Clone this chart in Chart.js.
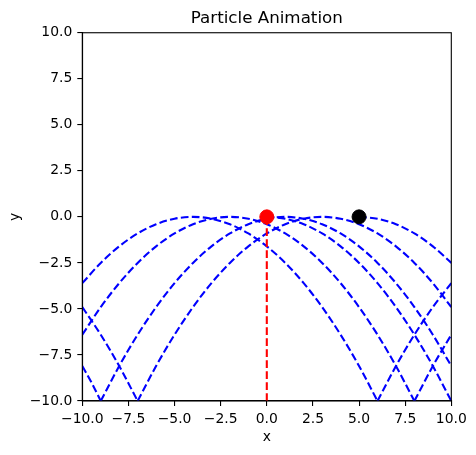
<!DOCTYPE html>
<html>
<head>
<meta charset="utf-8">
<title>Particle Animation</title>
<script src="https://cdn.jsdelivr.net/npm/chart.js@4.4.1/dist/chart.umd.min.js"></script>
<style>
  html, body { margin: 0; padding: 0; background: #fff; }
  canvas { display: block; }
</style>
</head>
<body>
<canvas id="myChart" width="476" height="455"></canvas>
<script>
// Traces (x, y pairs per segment)
var arcAX = [-10, -9, -8, -7, -6, -5, -4, -3, -2, -1, 0, 1, 2, 3, 4, 5, 6];
var arcAY = [-3.6, -2.5, -1.6, -0.9, -0.4, -0.1, 0, -0.1, -0.4, -0.9, -1.6, -2.5, -3.6, -4.9, -6.4, -8.1, -10];
var bounceAX = [6, 7, 8, 9, 10];
var bounceAY = [-10, -8.1, -6.4, -4.9, -3.6];

var arcBX = [-10, -9, -8, -7, -6, -5, -4, -3, -2, -1, 0, 1, 2, 3, 4, 5, 6, 7, 8];
var arcBY = [-6.4, -4.9, -3.6, -2.5, -1.6, -0.9, -0.4, -0.1, 0, -0.1, -0.4, -0.9, -1.6, -2.5, -3.6, -4.9, -6.4, -8.1, -10];
var bounceBX = [8, 9, 10];
var bounceBY = [-10, -8.1, -6.4];

var arcCX = [0, 1, 2, 3, 4, 5, 6, 7, 8, 9, 10];
var arcCY = [0, -0.1, -0.4, -0.9, -1.6, -2.5, -3.6, -4.9, -6.4, -8.1, -10];

var bounceDX = [-10, -9.5, -9];
var bounceDY = [-8.1, -9.0, -10];
var arcDX = [-9, -8, -7, -6, -5, -4, -3, -2, -1, 0, 1, 2, 3, 4, 5, 6, 7, 8, 9, 10];
var arcDY = [-10, -8.1, -6.4, -4.9, -3.6, -2.5, -1.6, -0.9, -0.4, -0.1, 0, -0.1, -0.4, -0.9, -1.6, -2.5, -3.6, -4.9, -6.4, -8.1];

var bounceEX = [-10, -9, -8, -7];
var bounceEY = [-4.9, -6.4, -8.1, -10];
var arcEX = [-7, -6, -5, -4, -3, -2, -1, 0, 1, 2, 3, 4, 5, 6, 7, 8, 9, 10];
var arcEY = [-10, -8.1, -6.4, -4.9, -3.6, -2.5, -1.6, -0.9, -0.4, -0.1, 0, -0.1, -0.4, -0.9, -1.6, -2.5, -3.6, -4.9];

var arcFX = [5, 6, 7, 8, 9, 10];
var arcFY = [0, -0.1, -0.4, -0.9, -1.6, -2.5];

var redLineX = [0, 0];
var redLineY = [-10, 0];
var redDot = [0, 0];
var blackDot = [5, 0];

var tickValues = [-10, -7.5, -5, -2.5, 0, 2.5, 5, 7.5, 10];
var tickLabels = ['\u221210.0', '\u22127.5', '\u22125.0', '\u22122.5', '0.0', '2.5', '5.0', '7.5', '10.0'];

function pts(xs, ys) {
    return xs.map(function (x, i) { return { x: x, y: ys[i] }; });
}

function trail(xs, ys) {
    return {
        data: pts(xs, ys),
        showLine: true,
        borderColor: '#0000ff',
        borderWidth: 2.1,
        borderDash: [7.7, 3.3],
        pointRadius: 0,
        cubicInterpolationMode: 'monotone',
        order: 3
    };
}

var tickFont = { family: 'DejaVu Sans', size: 13.9 };

function axis(fitKey, fitVal, title) {
    return {
        type: 'linear',
        min: -10,
        max: 10,
        afterBuildTicks: function (scale) {
            scale.ticks = tickValues.map(function (v) { return { value: v }; });
        },
        afterFit: function (scale) { scale[fitKey] = fitVal; },
        ticks: {
            color: '#000',
            font: tickFont,
            padding: 5,
            autoSkip: false,
            maxRotation: 0,
            callback: function (v, i) { return tickLabels[i]; }
        },
        grid: {
            display: true,
            drawOnChartArea: false,
            drawTicks: true,
            tickLength: 5,
            color: '#000',
            lineWidth: 1.1
        },
        border: { display: true, color: '#000', width: 1.1 },
        title: {
            display: true,
            text: title,
            color: '#000',
            font: tickFont,
            padding: fitKey === 'width' ? { top: 7 } : { bottom: 9 }
        }
    };
}

// top and right spines
var frame = {
    id: 'frame',
    afterDatasetsDraw: function (chart) {
        var a = chart.chartArea, c = chart.ctx;
        c.save();
        c.strokeStyle = '#000';
        c.lineWidth = 1.1;
        c.strokeRect(a.left, a.top, a.right - a.left, a.bottom - a.top);
        c.restore();
    }
};

var ctx = document.getElementById('myChart').getContext('2d');
var chart = new Chart(ctx, {
    type: 'scatter',
    data: {
        datasets: [
            {
                data: [{ x: redDot[0], y: redDot[1] }],
                pointRadius: 7,
                pointBackgroundColor: '#ff0000',
                pointBorderColor: '#ff0000',
                pointBorderWidth: 1,
                order: 0
            },
            {
                data: [{ x: blackDot[0], y: blackDot[1] }],
                pointRadius: 7,
                pointBackgroundColor: '#000000',
                pointBorderColor: '#000000',
                pointBorderWidth: 1,
                order: 0
            },
            {
                data: pts(redLineX, redLineY),
                showLine: true,
                borderColor: '#ff0000',
                borderWidth: 2.1,
                borderDash: [7.7, 3.3],
                pointRadius: 0,
                order: 2
            },
            trail(arcAX, arcAY),
            trail(bounceAX, bounceAY),
            trail(arcBX, arcBY),
            trail(bounceBX, bounceBY),
            trail(arcCX, arcCY),
            trail(bounceDX, bounceDY),
            trail(arcDX, arcDY),
            trail(bounceEX, bounceEY),
            trail(arcEX, arcEY),
            trail(arcFX, arcFY)
        ]
    },
    options: {
        responsive: false,
        animation: false,
        layout: { padding: { left: 0, right: 24.7, top: 0, bottom: 0 } },
        scales: {
            x: axis('height', 54, 'x'),
            y: axis('width', 82.3, 'y')
        },
        plugins: {
            legend: { display: false },
            tooltip: { enabled: false },
            title: {
                display: true,
                text: 'Particle Animation',
                color: '#000',
                fullSize: false,
                font: { family: 'DejaVu Sans', size: 16.7, weight: 'normal' },
                padding: { top: 8.5, bottom: 4.2 }
            }
        }
    },
    plugins: [frame]
});
</script>
</body>
</html>
